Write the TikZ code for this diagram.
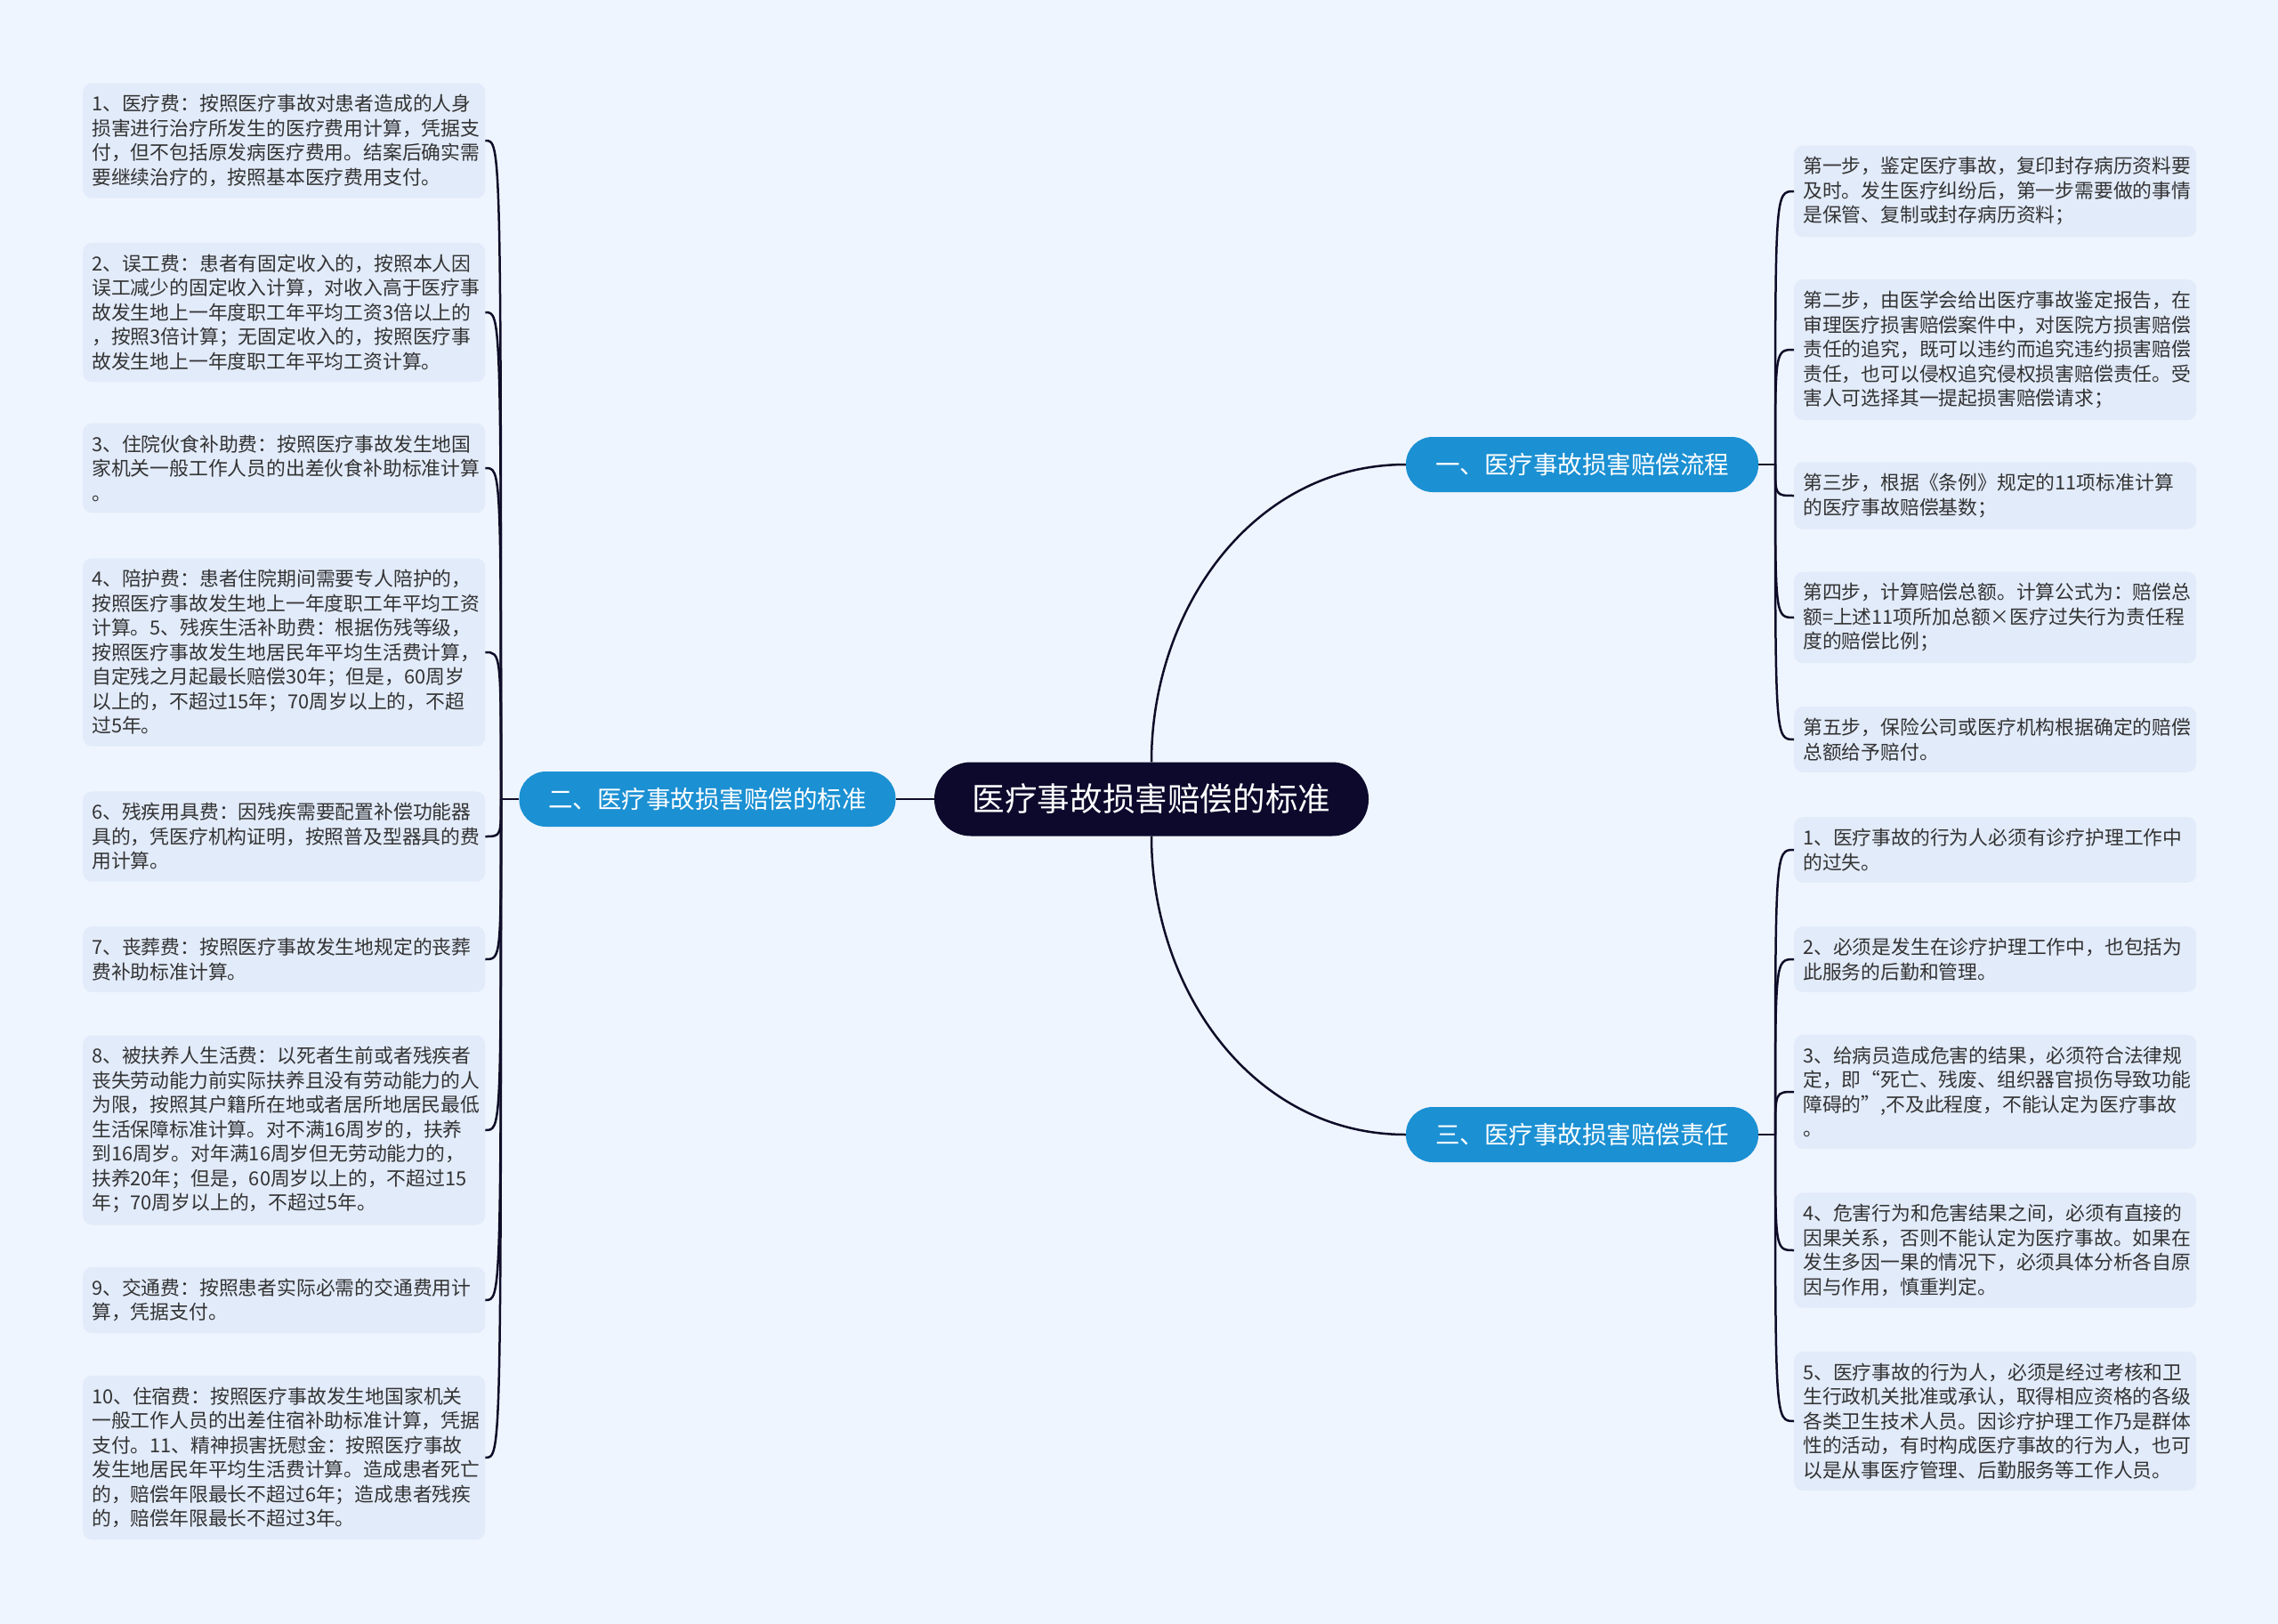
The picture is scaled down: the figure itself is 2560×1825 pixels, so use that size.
\documentclass[tikz,border=0pt]{standalone}
\usepackage{fontspec}
\setmainfont{Noto Sans CJK SC}
\usetikzlibrary{positioning}

\definecolor{pagebg}{RGB}{239,245,254}
\definecolor{leafcol}{RGB}{226,235,250}
\definecolor{rootcol}{RGB}{12,9,44}
\definecolor{branchcol}{RGB}{27,144,211}
\definecolor{linkcol}{RGB}{14,12,40}
\definecolor{textcol}{RGB}{51,51,51}

\begin{document}
\begin{tikzpicture}[
    x=1pt, y=-1pt, % image-like coordinates
    link/.style={line width=2.5pt, draw=linkcol}, % connectors
    rootbox/.style={fill=rootcol, text=white, rounded corners=41pt,
        minimum width=488pt, minimum height=83pt, inner sep=0pt,
        font=\fontsize{36.6pt}{40pt}\selectfont},
    branchbox/.style={fill=branchcol, text=white, rounded corners=30pt,
        minimum height=62pt, inner sep=0pt,
        font=\fontsize{27.5pt}{30pt}\selectfont},
    leafbox/.style={fill=leafcol, text=textcol, rounded corners=10pt,
        text width=432pt, align=left, inner xsep=10pt, inner ysep=13pt,
        anchor=west, font=\fontsize{21.8pt}{27.5pt}\selectfont}
]

    % Page
    \fill[pagebg] (0,0) rectangle (2560,1825);
    \useasboundingbox (0,0) rectangle (2560,1825);

    % Root and branches
    \node[rootbox] (root) at (1294,898) {医疗事故损害赔偿的标准};
    \node[branchbox, minimum width=396pt] (flow) at (1778,522) {一、医疗事故损害赔偿流程};
    \node[branchbox, minimum width=423pt] (std) at (795,898) {二、医疗事故损害赔偿的标准};
    \node[branchbox, minimum width=396pt] (duty) at (1778,1275) {三、医疗事故损害赔偿责任};

    % Spine points
    \coordinate (stdspine) at (563,898);
    \coordinate (flowspine) at (1995,522);
    \coordinate (dutyspine) at (1995,1275);

    % Left leaves (standards)
    \node[leafbox] (std1) at (93,158) {1、医疗费：按照医疗事故对患者造成的人身\\损害进行治疗所发生的医疗费用计算，凭据支\\付，但不包括原发病医疗费用。结案后确实需\\要继续治疗的，按照基本医疗费用支付。};
    \node[leafbox] (std2) at (93,351) {2、误工费：患者有固定收入的，按照本人因\\误工减少的固定收入计算，对收入高于医疗事\\故发生地上一年度职工年平均工资3倍以上的\\，按照3倍计算；无固定收入的，按照医疗事\\故发生地上一年度职工年平均工资计算。};
    \node[leafbox] (std3) at (93,526) {3、住院伙食补助费：按照医疗事故发生地国\\家机关一般工作人员的出差伙食补助标准计算\\。};
    \node[leafbox] (std4) at (93,733) {4、陪护费：患者住院期间需要专人陪护的，\\按照医疗事故发生地上一年度职工年平均工资\\计算。5、残疾生活补助费：根据伤残等级，\\按照医疗事故发生地居民年平均生活费计算，\\自定残之月起最长赔偿30年；但是，60周岁\\以上的，不超过15年；70周岁以上的，不超\\过5年。};
    \node[leafbox] (std5) at (93,940) {6、残疾用具费：因残疾需要配置补偿功能器\\具的，凭医疗机构证明，按照普及型器具的费\\用计算。};
    \node[leafbox] (std6) at (93,1078) {7、丧葬费：按照医疗事故发生地规定的丧葬\\费补助标准计算。};
    \node[leafbox] (std7) at (93,1270) {8、被扶养人生活费：以死者生前或者残疾者\\丧失劳动能力前实际扶养且没有劳动能力的人\\为限，按照其户籍所在地或者居所地居民最低\\生活保障标准计算。对不满16周岁的，扶养\\到16周岁。对年满16周岁但无劳动能力的，\\扶养20年；但是，60周岁以上的，不超过15\\年；70周岁以上的，不超过5年。};
    \node[leafbox] (std8) at (93,1461) {9、交通费：按照患者实际必需的交通费用计\\算，凭据支付。};
    \node[leafbox] (std9) at (93,1638) {10、住宿费：按照医疗事故发生地国家机关\\一般工作人员的出差住宿补助标准计算，凭据\\支付。11、精神损害抚慰金：按照医疗事故\\发生地居民年平均生活费计算。造成患者死亡\\的，赔偿年限最长不超过6年；造成患者残疾\\的，赔偿年限最长不超过3年。};

    % Right leaves (process)
    \node[leafbox] (flow1) at (2016,215) {第一步，鉴定医疗事故，复印封存病历资料要\\及时。发生医疗纠纷后，第一步需要做的事情\\是保管、复制或封存病历资料；};
    \node[leafbox] (flow2) at (2016,393) {第二步，由医学会给出医疗事故鉴定报告，在\\审理医疗损害赔偿案件中，对医院方损害赔偿\\责任的追究，既可以违约而追究违约损害赔偿\\责任，也可以侵权追究侵权损害赔偿责任。受\\害人可选择其一提起损害赔偿请求；};
    \node[leafbox] (flow3) at (2016,557) {第三步，根据《条例》规定的11项标准计算\\的医疗事故赔偿基数；};
    \node[leafbox] (flow4) at (2016,694) {第四步，计算赔偿总额。计算公式为：赔偿总\\额=上述11项所加总额×医疗过失行为责任程\\度的赔偿比例；};
    \node[leafbox] (flow5) at (2016,831) {第五步，保险公司或医疗机构根据确定的赔偿\\总额给予赔付。};

    % Right leaves (liability)
    \node[leafbox] (duty1) at (2016,955) {1、医疗事故的行为人必须有诊疗护理工作中\\的过失。};
    \node[leafbox] (duty2) at (2016,1078) {2、必须是发生在诊疗护理工作中，也包括为\\此服务的后勤和管理。};
    \node[leafbox] (duty3) at (2016,1227) {3、给病员造成危害的结果，必须符合法律规\\定，即“死亡、残废、组织器官损伤导致功能\\障碍的”,不及此程度，不能认定为医疗事故\\。};
    \node[leafbox] (duty4) at (2016,1405) {4、危害行为和危害结果之间，必须有直接的\\因果关系，否则不能认定为医疗事故。如果在\\发生多因一果的情况下，必须具体分析各自原\\因与作用，慎重判定。};
    \node[leafbox] (duty5) at (2016,1597) {5、医疗事故的行为人，必须是经过考核和卫\\生行政机关批准或承认，取得相应资格的各级\\各类卫生技术人员。因诊疗护理工作乃是群体\\性的活动，有时构成医疗事故的行为人，也可\\以是从事医疗管理、后勤服务等工作人员。};

    % Root connectors
    \draw[link] (root.north) to[out=90, in=180] (flow.west);
    \draw[link] (root.south) to[out=-90, in=180] (duty.west);
    \draw[link] (root.west) -- (std.east);

    % Branch connectors
    \draw[link] (std.west) -- (stdspine);
    \draw[link] (flow.east) -- (flowspine);
    \draw[link] (duty.east) -- (dutyspine);
    \foreach \i in {1,...,9}
        \draw[link] (stdspine) .. controls (stdspine |- std\i.east) and (stdspine |- std\i.east) .. (std\i.east);
    \foreach \i in {1,...,5}{
        \draw[link] (flowspine) .. controls (flowspine |- flow\i.west) and (flowspine |- flow\i.west) .. (flow\i.west);
        \draw[link] (dutyspine) .. controls (dutyspine |- duty\i.west) and (dutyspine |- duty\i.west) .. (duty\i.west);
    }

\end{tikzpicture}
\end{document}
